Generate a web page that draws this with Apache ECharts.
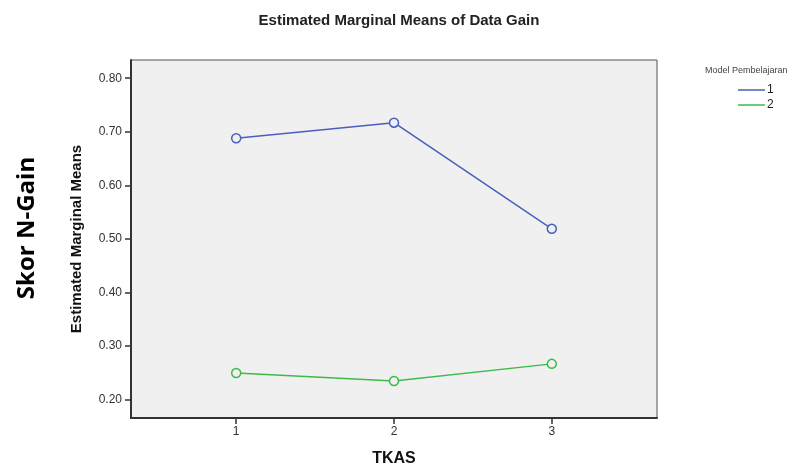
<!DOCTYPE html>
<html>
<head>
<meta charset="utf-8">
<script src="https://cdn.jsdelivr.net/npm/echarts@6/dist/echarts.min.js"></script>
<style>
  html, body { margin: 0; padding: 0; background: #fff; }
  #chart { width: 798px; height: 465px; }
</style>
</head>
<body>
<div id="chart"></div>
<script>
  // TKAS levels and estimated marginal means per Model Pembelajaran
  var tkas = [1, 2, 3];
  var model1 = [0.688, 0.717, 0.519];
  var model2 = [0.250, 0.235, 0.267];
  var yTicks = [0.2, 0.3, 0.4, 0.5, 0.6, 0.7, 0.8];
  var seriesNames = ['1', '2'];
  var colors = ['#4a5fbd', '#3dbb4a'];

  function pairs(vals) {
    return tkas.map(function (t, i) { return [t, vals[i]]; });
  }

  var chart = echarts.init(document.getElementById('chart'));
  chart.setOption({
    animation: false,
    backgroundColor: '#fff',
    title: {
      text: 'Estimated Marginal Means of Data Gain',
      left: 'center', top: 8,
      textStyle: { fontFamily: 'Liberation Sans', fontSize: 15, fontWeight: 'bold', color: '#222' }
    },
    legend: {
      orient: 'vertical',
      left: 733, top: 79,
      itemWidth: 27, itemHeight: 1.5, itemGap: 3,
      icon: 'rect',
      data: seriesNames.map(function (n, i) {
        return { name: n, itemStyle: { color: colors[i], borderWidth: 0 } };
      }),
      textStyle: { fontFamily: 'Liberation Sans', fontSize: 12, color: '#222', padding: [0, 0, 0, -3] }
    },
    graphic: [
      {
        type: 'text', left: 705, top: 66,
        style: { text: 'Model Pembelajaran', font: '9px "Liberation Sans"', fill: '#444' }
      },
      {
        type: 'text', x: 27, y: 228, rotation: Math.PI / 2,
        style: { text: 'Skor N-Gain', font: 'bold 24px "Open Sans"', fill: '#000', align: 'center', verticalAlign: 'middle' }
      }
    ],
    grid: {
      left: 131, top: 60, right: 141, bottom: 47,
      outerBoundsMode: 'none',
      show: true, backgroundColor: '#f0f0f0', borderColor: '#555', borderWidth: 1
    },
    xAxis: {
      type: 'value', min: 1 / 3, max: 11 / 3,
      name: 'TKAS', nameLocation: 'middle', nameGap: 33,
      nameTextStyle: { fontFamily: 'Liberation Sans', fontSize: 16, fontWeight: 'bold', color: '#111' },
      axisLine: { show: true, lineStyle: { color: '#333', width: 2 } },
      axisTick: { show: true, length: 6, customValues: tkas, lineStyle: { color: '#333', width: 1.5 } },
      axisLabel: { customValues: tkas, fontFamily: 'Liberation Sans', fontSize: 12, color: '#333', margin: 8 },
      splitLine: { show: false }
    },
    yAxis: {
      type: 'value', min: 0.166, max: 0.834,
      name: 'Estimated Marginal Means', nameLocation: 'middle', nameGap: 47, nameRotate: 90,
      nameTextStyle: { fontFamily: 'Liberation Sans Narrow, Liberation Sans', fontSize: 15, fontWeight: 'bold', color: '#111' },
      axisLine: { show: true, lineStyle: { color: '#333', width: 2 } },
      axisTick: { show: true, length: 6, customValues: yTicks, lineStyle: { color: '#333', width: 1.5 } },
      axisLabel: {
        customValues: yTicks, fontFamily: 'Liberation Sans', fontSize: 12, color: '#333', margin: 9,
        formatter: function (v) { return v.toFixed(2); }
      },
      splitLine: { show: false }
    },
    series: [
      {
        name: seriesNames[0], type: 'line', data: pairs(model1),
        symbol: 'circle', symbolSize: 9,
        lineStyle: { color: colors[0], width: 1.5 },
        itemStyle: { color: '#f0f0f0', borderColor: colors[0], borderWidth: 1.5 }
      },
      {
        name: seriesNames[1], type: 'line', data: pairs(model2),
        symbol: 'circle', symbolSize: 9,
        lineStyle: { color: colors[1], width: 1.5 },
        itemStyle: { color: '#f0f0f0', borderColor: colors[1], borderWidth: 1.5 }
      }
    ]
  });
</script>
</body>
</html>
